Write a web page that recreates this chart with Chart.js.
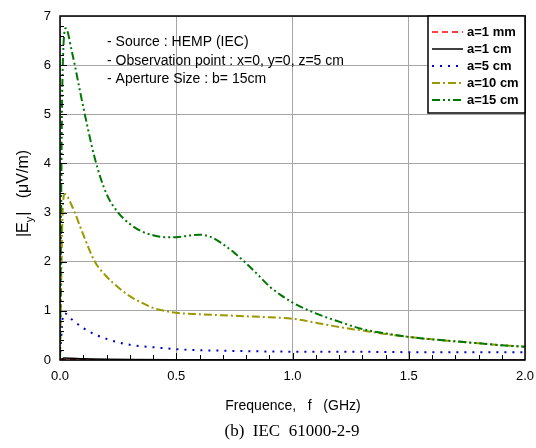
<!DOCTYPE html>
<html><head><meta charset="utf-8">
<script src="https://cdn.jsdelivr.net/npm/chart.js@4.4.0/dist/chart.umd.min.js"></script>
<style>html,body{margin:0;padding:0;background:#fff}#wrap{width:536px;height:448px;position:relative}</style>
</head><body><div id="wrap"><canvas id="c" width="536" height="448"></canvas></div>
<script>
// ---- data ----
const labels = ["a=1 mm", "a=1 cm", "a=5 cm", "a=10 cm", "a=15 cm"];
const f1mm = [0, 0.02, 0.1, 0.5, 1.0, 2.0];
const v1mm = [0, 0.01, 0.006, 0.003, 0.002, 0.001];
const f1cm = [0, 0.02, 0.05, 0.1, 0.2, 0.3, 0.5, 1.0, 2.0];
const v1cm = [0, 0.04, 0.035, 0.025, 0.015, 0.01, 0.006, 0.003, 0.002];
const f5cm = [0, 0.01, 0.02, 0.05, 0.1, 0.15, 0.2, 0.25, 0.3, 0.4, 0.5, 0.6, 0.7, 0.8, 1.0, 1.2, 1.5, 2.0];
const v5cm = [0, 0.8, 0.95, 0.83, 0.65, 0.52, 0.43, 0.36, 0.31, 0.26, 0.22, 0.2, 0.19, 0.18, 0.17, 0.17, 0.16, 0.16];
const f10cm = [0, 0.01, 0.02, 0.05, 0.1, 0.15, 0.2, 0.25, 0.3, 0.35, 0.4, 0.45, 0.5, 0.6, 0.7, 0.8, 0.9, 1.0, 1.1, 1.2, 1.3, 1.4, 1.5, 1.6, 1.7, 1.8, 1.9, 2.0];
const v10cm = [0, 2.8, 3.38, 3.15, 2.55, 2.0, 1.7, 1.48, 1.3, 1.17, 1.06, 1.0, 0.96, 0.93, 0.91, 0.89, 0.87, 0.84, 0.76, 0.67, 0.6, 0.53, 0.47, 0.42, 0.38, 0.34, 0.3, 0.27];
const f15cm = [0, 0.01, 0.025, 0.05, 0.1, 0.15, 0.2, 0.25, 0.3, 0.35, 0.4, 0.45, 0.5, 0.55, 0.6, 0.65, 0.7, 0.75, 0.8, 0.85, 0.9, 0.95, 1.0, 1.1, 1.2, 1.3, 1.4, 1.5, 1.6, 1.7, 1.8, 1.9, 2.0];
const v15cm = [0, 5.6, 6.75, 6.3, 5.15, 4.1, 3.38, 3.0, 2.77, 2.62, 2.54, 2.5, 2.5, 2.53, 2.55, 2.5, 2.36, 2.18, 1.97, 1.74, 1.5, 1.32, 1.17, 0.95, 0.78, 0.63, 0.54, 0.47, 0.42, 0.38, 0.34, 0.3, 0.27];
const xTicks = [0, 0.5, 1.0, 1.5, 2.0];
const yTicks = [0, 1, 2, 3, 4, 5, 6, 7];
const notes = ["- Source : HEMP (IEC)", "- Observation point : x=0, y=0, z=5 cm", "- Aperture Size : b= 15cm"];

const pts = (f, v) => f.map((x, i) => ({x: x, y: v[i]}));
const styles = [
  {color: '#ff0000', dash: [6, 4], w: 1.5},
  {color: '#000000', dash: [], w: 1.5},
  {color: '#0000cc', dash: [2, 6], w: 2},
  {color: '#999900', dash: [8, 3, 2, 3], w: 2},
  {color: '#007700', dash: [8, 3, 2, 3, 2, 3], w: 2}
];
const series = [pts(f1mm, v1mm), pts(f1cm, v1cm), pts(f5cm, v5cm), pts(f10cm, v10cm), pts(f15cm, v15cm)];
const datasets = series.map((d, i) => ({
  label: labels[i], data: d, borderColor: styles[i].color, borderDash: styles[i].dash,
  borderWidth: styles[i].w, pointRadius: 0, fill: false, cubicInterpolationMode: 'monotone'
})).reverse();

const F = '"Liberation Sans", Arial, sans-serif';

const deco = {
  id: 'deco',
  afterDraw(chart) {
    const ctx = chart.ctx, a = chart.chartArea, xs = chart.scales.x, ys = chart.scales.y;
    ctx.save();
    // minor / major inward ticks
    ctx.strokeStyle = '#000'; ctx.lineWidth = 1;
    ctx.beginPath();
    for (let k = 1; k < 20; k++) {
      const x = Math.round(xs.getPixelForValue(k / 10)) + 0.5;
      const L = (k % 5 === 0) ? 7 : 5;
      ctx.moveTo(x, a.bottom); ctx.lineTo(x, a.bottom - L);
    }
    for (let k = 1; k < 35; k++) {
      const y = Math.round(ys.getPixelForValue(k / 5)) + 0.5;
      const L = (k % 5 === 0) ? 7 : 4;
      ctx.moveTo(a.left, y); ctx.lineTo(a.left + L, y);
    }
    ctx.stroke();
    // border
    ctx.lineWidth = 1.5;
    ctx.strokeRect(a.left, a.top, a.right - a.left, a.bottom - a.top);
    // notes
    ctx.fillStyle = '#000'; ctx.font = '14px ' + F; ctx.textBaseline = 'middle'; ctx.textAlign = 'left';
    notes.forEach((t, i) => ctx.fillText(t, 107, 42 + i * 18.7));
    // legend
    const lx = 428, ly = a.top, lw = a.right - lx, lh = 97;
    ctx.fillStyle = '#fff'; ctx.fillRect(lx, ly, lw, lh);
    ctx.strokeStyle = '#000'; ctx.lineWidth = 1.5; ctx.strokeRect(lx, ly, lw, lh);
    ctx.font = 'bold 13px ' + F;
    labels.forEach((t, i) => {
      const y = ly + 16 + i * 17;
      ctx.strokeStyle = styles[i].color; ctx.lineWidth = styles[i].w; ctx.setLineDash(styles[i].dash);
      ctx.beginPath(); ctx.moveTo(432, y); ctx.lineTo(463, y); ctx.stroke();
      ctx.setLineDash([]);
      ctx.fillStyle = '#000'; ctx.fillText(t, 467, y);
    });
    // x title and caption
    ctx.textAlign = 'center';
    ctx.font = '14px ' + F;
    ctx.fillText('Frequence,   f   (GHz)', 293, 406);
    ctx.font = '17px "Liberation Serif", "Times New Roman", serif';
    ctx.fillText('(b)  IEC  61000-2-9', 292, 432);
    // y title with subscript
    ctx.translate(24, 194); ctx.rotate(-Math.PI / 2);
    ctx.textAlign = 'left'; ctx.font = '16px ' + F;
    const p1 = '|E', p3 = '|   (\u03bcV/m)';
    const w1 = ctx.measureText(p1).width;
    ctx.font = '11px ' + F; const w2 = ctx.measureText('y').width;
    ctx.font = '16px ' + F; const w3 = ctx.measureText(p3).width;
    let x0 = -(w1 + w2 + w3) / 2;
    ctx.fillText(p1, x0, 0);
    ctx.font = '11px ' + F; ctx.fillText('y', x0 + w1, 6);
    ctx.font = '16px ' + F; ctx.fillText(p3, x0 + w1 + w2 + 1, 0);
    ctx.restore();
  }
};

new Chart(document.getElementById('c'), {
  type: 'line',
  data: {datasets: datasets},
  options: {
    responsive: false, animation: false,
    layout: {padding: {left: 0, right: 11, top: 16, bottom: 0}},
    plugins: {legend: {display: false}, tooltip: {enabled: false}},
    scales: {
      x: {
        type: 'linear', min: 0, max: 2,
        afterBuildTicks: s => { s.ticks = xTicks.map(v => ({value: v})); },
        afterFit: s => { s.height = 88; s.paddingLeft = 0; s.paddingRight = 0; },
        ticks: {color: '#000', font: {family: F, size: 13}, padding: 9, maxRotation: 0,
          callback: v => v.toFixed(1)},
        grid: {color: '#a6a6a6', lineWidth: 1, drawTicks: false},
        border: {display: false}
      },
      y: {
        type: 'linear', min: 0, max: 7,
        afterBuildTicks: s => { s.ticks = yTicks.map(v => ({value: v})); },
        afterFit: s => { s.width = 60; s.paddingTop = 0; s.paddingBottom = 0; },
        ticks: {color: '#000', font: {family: F, size: 13}, padding: 9, callback: v => String(v)},
        grid: {color: '#a6a6a6', lineWidth: 1, drawTicks: false},
        border: {display: false}
      }
    }
  },
  plugins: [deco]
});
</script></body></html>
